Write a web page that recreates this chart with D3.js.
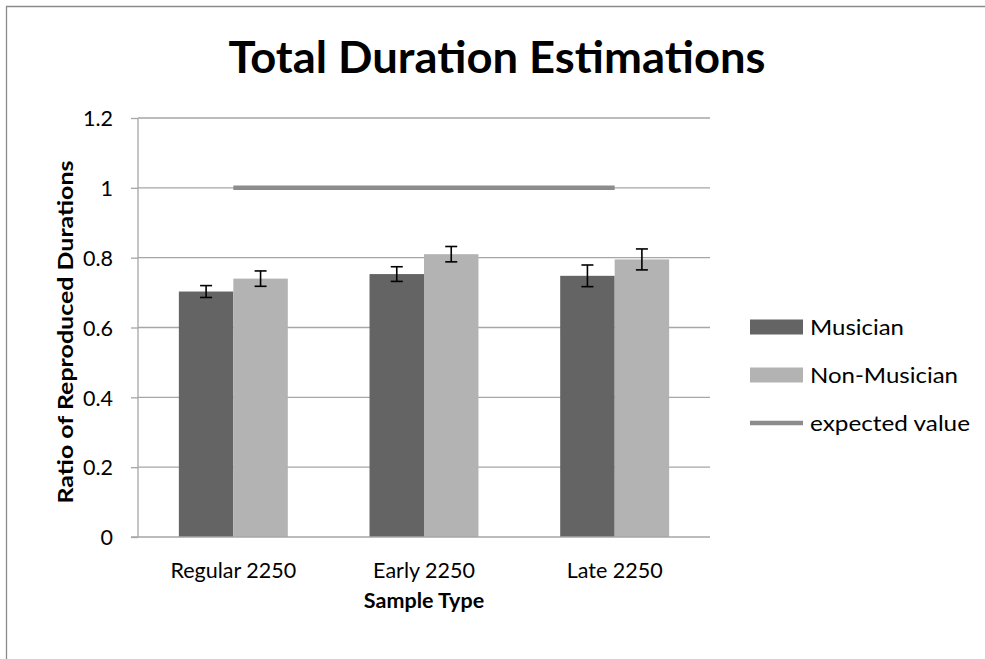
<!DOCTYPE html>
<html><head><meta charset="utf-8">
<script src="https://cdn.jsdelivr.net/npm/d3@7"></script>
<style>body{margin:0;background:#fff}svg{display:block}</style>
</head><body>
<svg id="c" width="985" height="659"></svg>
<script>
const categories = ["Regular 2250", "Early 2250", "Late 2250"];
const musician = [0.703, 0.753, 0.748];
const musicianErr = [0.017, 0.021, 0.031];
const nonMusician = [0.740, 0.810, 0.795];
const nonMusicianErr = [0.022, 0.022, 0.030];
const expectedValue = [1, 1, 1];
const yTicks = [0, 0.2, 0.4, 0.6, 0.8, 1, 1.2];
const seriesNames = ["Musician", "Non-Musician", "expected value"];
const titleText = "Total Duration Estimations";
const xTitle = "Sample Type";
const yTitle = "Ratio of Reproduced Durations";

const FONT = "Lato, 'Open Sans', sans-serif";
const svg = d3.select("#c");
const L = 138, R = 710, T = 118, B = 537;
const cMus = "#646464", cNon = "#b3b3b3", cExp = "#8c8c8c", cGrid = "#a6a6a6";

svg.append("path").attr("d", "M6.5,700V6.5H1100")
  .attr("fill", "none").attr("stroke", "#8a8a8a").attr("stroke-width", 1.3);

const x = d3.scaleBand().domain(categories).range([L, R]).paddingInner(0).paddingOuter(0);
const y = d3.scaleLinear().domain([0, 1.2]).range([B, T]);
const bw = x.bandwidth() / 3.5;
const x1 = d3.scaleBand().domain(["m", "n"]).range([0.75 * bw, 2.75 * bw]);

// gridlines
svg.append("g").selectAll("line").data(yTicks.filter(d => d > 0)).join("line")
  .attr("x1", L).attr("x2", R).attr("y1", d => y(d)).attr("y2", d => y(d))
  .attr("stroke", cGrid).attr("stroke-width", 1.3);

// bars
const data = categories.map((c, i) => ({c, m: musician[i], me: musicianErr[i], n: nonMusician[i], ne: nonMusicianErr[i]}));
const g = svg.append("g");
data.forEach(d => {
  [["m", d.m, d.me, cMus], ["n", d.n, d.ne, cNon]].forEach(([k, v, e, col]) => {
    const bx = x(d.c) + x1(k);
    g.append("rect").attr("x", bx).attr("width", x1.bandwidth()).attr("y", y(v)).attr("height", y(0) - y(v)).attr("fill", col);
  });
});
// error bars
data.forEach(d => {
  [["m", d.m, d.me], ["n", d.n, d.ne]].forEach(([k, v, e]) => {
    const cx = x(d.c) + x1(k) + x1.bandwidth() / 2;
    const eg = g.append("g").attr("stroke", "#000").attr("stroke-width", 1.6);
    eg.append("line").attr("x1", cx).attr("x2", cx).attr("y1", y(v + e)).attr("y2", y(v - e));
    eg.append("line").attr("x1", cx - 6).attr("x2", cx + 6).attr("y1", y(v + e)).attr("y2", y(v + e));
    eg.append("line").attr("x1", cx - 6).attr("x2", cx + 6).attr("y1", y(v - e)).attr("y2", y(v - e));
  });
});

// expected value line
svg.append("path").datum(expectedValue.map((v, i) => [x(categories[i]) + x.bandwidth() / 2, y(v)]))
  .attr("d", d3.line()).attr("fill", "none").attr("stroke", cExp).attr("stroke-width", 4.5);

// axes
const yAxis = svg.append("g").attr("transform", `translate(${L},0)`)
  .call(d3.axisLeft(y).tickValues(yTicks).tickSize(7).tickPadding(18).tickFormat(d => String(+d.toFixed(1))));
yAxis.select(".domain").attr("stroke", cGrid).attr("stroke-width", 1.3).attr("d", `M0,${T}V${B}`);
yAxis.selectAll(".tick line").attr("stroke", cGrid).attr("stroke-width", 1.3);
yAxis.selectAll("text").attr("font-family", FONT).attr("font-size", 21.5).attr("fill", "#000").attr("dy", "0.36em");

const xAxis = svg.append("g").attr("transform", `translate(0,${B})`)
  .call(d3.axisBottom(x).tickSize(0).tickPadding(37));
xAxis.select(".domain").attr("stroke", cGrid).attr("stroke-width", 1.3).attr("d", `M${L - 7},0H${R}`);
xAxis.selectAll("text").attr("font-family", FONT).attr("font-size", 21.5).attr("fill", "#000").attr("dy", "0.2em");

// titles
function fit(sel, w) {
  const n = sel.node();
  const cur = n.getComputedTextLength();
  if (Math.abs(cur - w) / w > 0.02) sel.attr("textLength", w).attr("lengthAdjust", "spacingAndGlyphs");
  return sel;
}
fit(svg.append("text").attr("x", 497).attr("y", 73).attr("text-anchor", "middle")
  .attr("font-family", FONT).attr("font-weight", "bold").attr("font-size", 43).text(titleText), 537);
svg.append("text").attr("x", 424).attr("y", 608).attr("text-anchor", "middle")
  .attr("font-family", FONT).attr("font-weight", "bold").attr("font-size", 21.5).text(xTitle);
fit(svg.append("text").attr("transform", `translate(73,332) rotate(-90)`).attr("text-anchor", "middle")
  .attr("font-family", FONT).attr("font-weight", "bold").attr("font-size", 21.5).text(yTitle), 343);

// legend
const lg = svg.append("g");
const ly = [327, 375, 423];
const lw = [94, 148, 160];
lg.append("rect").attr("x", 750).attr("y", ly[0] - 7.5).attr("width", 53).attr("height", 15).attr("fill", cMus);
lg.append("rect").attr("x", 750).attr("y", ly[1] - 7.5).attr("width", 53).attr("height", 15).attr("fill", cNon);
lg.append("line").attr("x1", 750).attr("x2", 803).attr("y1", ly[2]).attr("y2", ly[2]).attr("stroke", cExp).attr("stroke-width", 4.5);
seriesNames.forEach((s, i) => {
  fit(lg.append("text").attr("x", 810).attr("y", ly[i] + 8).attr("font-family", FONT).attr("font-size", 21.5).text(s), lw[i]);
});
</script>
</body></html>
